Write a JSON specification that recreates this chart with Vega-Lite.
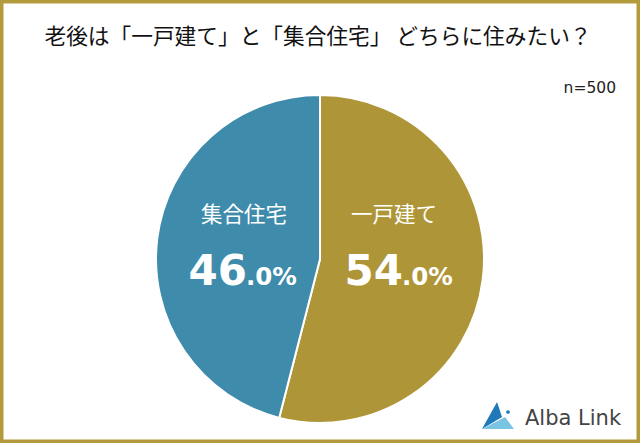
{
"$schema":"https://vega.github.io/schema/vega-lite/v6.json",
"width":640,"height":443,"padding":0,"autosize":{"type":"none"},
"background":"#ffffff",
"config":{"view":{"stroke":"#B39A3C","strokeWidth":7},"font":"Noto Sans CJK JP"},
"title":{"text":"老後は「一戸建て」と「集合住宅」 どちらに住みたい？","fontSize":21.7,"fontWeight":"normal","color":"#111111","anchor":"middle","dy":53,"dx":-2,"font":"Noto Sans CJK JP"},
"data":{"values":[
{"slice":"一戸建て","share":54,"rank":1,"whole":"54","frac":".0%"},
{"slice":"集合住宅","share":46,"rank":2,"whole":"46","frac":".0%"}
]},
"layer":[
{"mark":{"type":"arc","outerRadius":164,"stroke":"#ffffff","strokeWidth":2},
 "encoding":{
  "theta":{"field":"share","type":"quantitative","stack":true,"scale":{"domain":[0,100]}},
  "order":{"field":"rank"},
  "color":{"field":"slice","type":"nominal","legend":null,"scale":{"domain":["一戸建て","集合住宅"],"range":["#AE9638","#3E8BAB"]}},
  "x":{"datum":320,"type":"quantitative","scale":{"domain":[0,640],"range":[0,640]},"axis":null},
  "y":{"datum":259,"type":"quantitative","scale":{"domain":[0,443],"range":[0,443]},"axis":null}
 }},
{"transform":[{"filter":"datum.rank==2"}],"mark":{"type":"text","fontSize":21.5,"fontWeight":"normal","color":"#ffffff","baseline":"middle"},
 "encoding":{"text":{"field":"slice"},"x":{"datum":244,"type":"quantitative","scale":{"domain":[0,640],"range":[0,640]},"axis":null},"y":{"datum":216,"type":"quantitative","scale":{"domain":[0,443],"range":[0,443]},"axis":null}}},
{"transform":[{"filter":"datum.rank==1"}],"mark":{"type":"text","fontSize":21.5,"fontWeight":"normal","color":"#ffffff","baseline":"middle"},
 "encoding":{"text":{"field":"slice"},"x":{"datum":394,"type":"quantitative","scale":{"domain":[0,640],"range":[0,640]},"axis":null},"y":{"datum":216,"type":"quantitative","scale":{"domain":[0,443],"range":[0,443]},"axis":null}}},
{"transform":[{"filter":"datum.rank==2"}],"mark":{"type":"text","font":"DejaVu Sans","fontSize":42,"fontWeight":700,"color":"#ffffff","align":"right","baseline":"alphabetic"},
 "encoding":{"text":{"field":"whole"},"x":{"datum":247,"type":"quantitative","scale":{"domain":[0,640],"range":[0,640]},"axis":null},"y":{"datum":285,"type":"quantitative","scale":{"domain":[0,443],"range":[0,443]},"axis":null}}},
{"transform":[{"filter":"datum.rank==2"}],"mark":{"type":"text","font":"DejaVu Sans","fontSize":24.5,"fontWeight":700,"color":"#ffffff","align":"left","baseline":"alphabetic"},
 "encoding":{"text":{"field":"frac"},"x":{"datum":246,"type":"quantitative","scale":{"domain":[0,640],"range":[0,640]},"axis":null},"y":{"datum":285,"type":"quantitative","scale":{"domain":[0,443],"range":[0,443]},"axis":null}}},
{"transform":[{"filter":"datum.rank==1"}],"mark":{"type":"text","font":"DejaVu Sans","fontSize":42,"fontWeight":700,"color":"#ffffff","align":"right","baseline":"alphabetic"},
 "encoding":{"text":{"field":"whole"},"x":{"datum":403,"type":"quantitative","scale":{"domain":[0,640],"range":[0,640]},"axis":null},"y":{"datum":285,"type":"quantitative","scale":{"domain":[0,443],"range":[0,443]},"axis":null}}},
{"transform":[{"filter":"datum.rank==1"}],"mark":{"type":"text","font":"DejaVu Sans","fontSize":24.5,"fontWeight":700,"color":"#ffffff","align":"left","baseline":"alphabetic"},
 "encoding":{"text":{"field":"frac"},"x":{"datum":402,"type":"quantitative","scale":{"domain":[0,640],"range":[0,640]},"axis":null},"y":{"datum":285,"type":"quantitative","scale":{"domain":[0,443],"range":[0,443]},"axis":null}}},
{"data":{"values":[{"note":"n=500"}]},"mark":{"type":"text","font":"DejaVu Sans","fontSize":15.5,"color":"#222222","align":"right","baseline":"middle"},
 "encoding":{"text":{"field":"note"},"x":{"datum":616,"type":"quantitative","scale":{"domain":[0,640],"range":[0,640]},"axis":null},"y":{"datum":88,"type":"quantitative","scale":{"domain":[0,443],"range":[0,443]},"axis":null}}},
{"data":{"values":[{"logo":"Alba Link"}]},"mark":{"type":"text","font":"DejaVu Sans","fontSize":21,"color":"#444444","align":"left","baseline":"middle"},
 "encoding":{"text":{"field":"logo"},"x":{"datum":525,"type":"quantitative","scale":{"domain":[0,640],"range":[0,640]},"axis":null},"y":{"datum":419,"type":"quantitative","scale":{"domain":[0,443],"range":[0,443]},"axis":null}}},
{"data":{"values":[{"logo":"mark"}]},"mark":{"type":"point","filled":true,"opacity":1,"size":1024,"strokeWidth":0,"color":"#1F78B8","shape":"M-0.06,-0.85L0.25,0.1L-1,0.85Z"},
 "encoding":{"x":{"datum":498,"type":"quantitative","scale":{"domain":[0,640],"range":[0,640]},"axis":null},"y":{"datum":415.5,"type":"quantitative","scale":{"domain":[0,443],"range":[0,443]},"axis":null}}},
{"data":{"values":[{"logo":"mark"}]},"mark":{"type":"point","filled":true,"opacity":1,"size":1024,"strokeWidth":0,"color":"#79C3E3","shape":"M-1,0.85L0.45,0.1L1,0.85Z"},
 "encoding":{"x":{"datum":498,"type":"quantitative","scale":{"domain":[0,640],"range":[0,640]},"axis":null},"y":{"datum":415.5,"type":"quantitative","scale":{"domain":[0,443],"range":[0,443]},"axis":null}}},
{"data":{"values":[{"logo":"dot"}]},"mark":{"type":"point","filled":true,"opacity":1,"size":14,"strokeWidth":0,"color":"#1F78B8","shape":"circle"},
 "encoding":{"x":{"datum":508,"type":"quantitative","scale":{"domain":[0,640],"range":[0,640]},"axis":null},"y":{"datum":412,"type":"quantitative","scale":{"domain":[0,443],"range":[0,443]},"axis":null}}}
]
}
